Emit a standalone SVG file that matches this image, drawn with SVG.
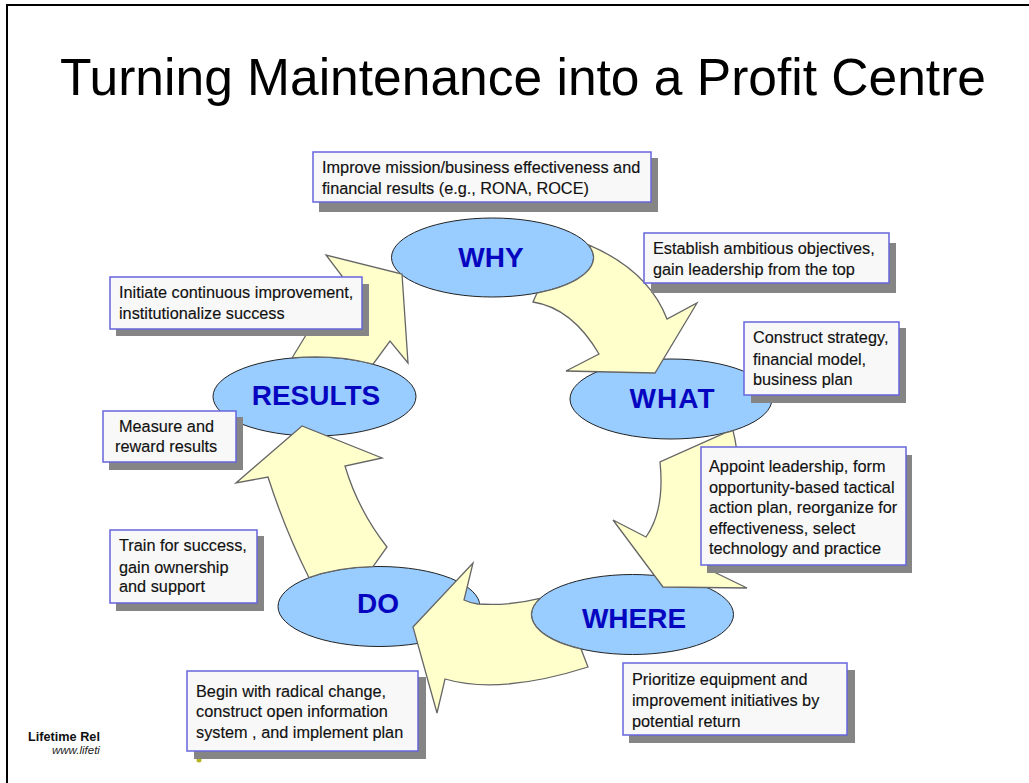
<svg xmlns="http://www.w3.org/2000/svg" width="1029" height="783" viewBox="0 0 1029 783">
<defs><style>
.e{fill:#99ccff;stroke:#222;stroke-width:1}
.a{fill:#ffffcc;stroke:#666;stroke-width:1.3;stroke-linejoin:miter}
.s{fill:#858585}
.b{fill:#f8f8f8;stroke:#6666dd;stroke-width:1.5}
.t{font-family:"Liberation Sans",Arial,sans-serif;font-size:16.3px;fill:#111;stroke:#111;stroke-width:.15}
.n{font-family:"Liberation Sans",Arial,sans-serif;font-size:28px;font-weight:bold;fill:#0606c0;text-anchor:middle}
</style></defs>
<rect width="1029" height="783" fill="#fff"/>
<path d="M7 783V5H1029" fill="none" stroke="#000" stroke-width="2"/>
<text x="523" y="95" font-family="'Liberation Sans',Arial,sans-serif" font-size="52" text-anchor="middle" fill="#000" textLength="926" lengthAdjust="spacingAndGlyphs">Turning Maintenance into a Profit Centre</text>
<circle cx="199" cy="760" r="2.5" fill="#b5b520"/>
<g id="why"><ellipse class="e" cx="492.5" cy="257.5" rx="101" ry="39.5"/><text class="n" x="491" y="267">WHY</text></g>
<g id="what"><ellipse class="e" cx="671" cy="399" rx="101" ry="40"/><text class="n" x="672" y="408" textLength="85" lengthAdjust="spacing">WHAT</text></g>
<g id="where"><ellipse class="e" cx="632.5" cy="614.5" rx="101" ry="40"/><text class="n" x="634" y="628">WHERE</text></g>
<g id="do"><ellipse class="e" cx="379" cy="606.5" rx="101" ry="40"/><text class="n" x="378" y="613">DO</text></g>
<g id="results"><ellipse class="e" cx="314.5" cy="396.5" rx="101.5" ry="39.5"/><text class="n" x="316" y="405">RESULTS</text></g>
<g id="connectors">
<path class="a" d="M588 244.6Q648 270 667 319L697 303L655 373L566 371L599 354Q572 308 533 302L537 293A101 39.5 0 0 0 588 244.6Z"/>
<path class="a" d="M733 430.6Q738 450 738 470L730 560L710 570L747 588L663 587L613 520L646 537Q665 510 660 462L725 432.8A101 40 0 0 0 733 430.6Z"/>
<path class="a" d="M540 598.4Q510 606 478 604Q470 603 464 600L473 563L413 627L437 713L445 679Q500 695 588 667L581 648.9A101 40 0 0 1 540 598.4Z"/>
<path class="a" d="M309 577.7Q285 530 268 477L236 483L302 426L382 458L345 466Q358 510 387 547L373 566.6A101 40 0 0 0 309 577.7Z"/>
<path class="a" d="M292 358L342 276L326 255L402 274L408 363L390 341L373 364.2A101.5 39.5 0 0 0 292 358Z"/>
</g>
<g id="box-why"><rect class="s" x="319" y="158" width="339" height="54"/><rect class="b" x="313" y="152" width="338" height="50"/><text class="t" x="322" y="173">Improve mission/business effectiveness and</text><text class="t" x="322" y="194">financial results (e.g., RONA, ROCE)</text></g>
<g id="box-objectives"><rect class="s" x="651" y="243" width="245" height="50"/><rect class="b" x="644" y="233" width="245" height="50"/><text class="t" x="653" y="254">Establish ambitious objectives,</text><text class="t" x="653" y="275">gain leadership from the top</text></g>
<g id="box-strategy"><rect class="s" x="751" y="328" width="155" height="75"/><rect class="b" x="744" y="322" width="155" height="73"/><text class="t" x="753" y="343">Construct strategy,</text><text class="t" x="753" y="365">financial model,</text><text class="t" x="753" y="385">business plan</text></g>
<g id="box-appoint"><rect class="s" x="707" y="455" width="205" height="118"/><rect class="b" x="701" y="447" width="205" height="118"/><text class="t" x="709" y="472">Appoint leadership, form</text><text class="t" x="709" y="493">opportunity-based tactical</text><text class="t" x="709" y="513">action plan, reorganize for</text><text class="t" x="709" y="534">effectiveness, select</text><text class="t" x="709" y="554">technology and practice</text></g>
<g id="box-prioritize"><rect class="s" x="629" y="670" width="226" height="73"/><rect class="b" x="623" y="663" width="224" height="72"/><text class="t" x="632" y="685">Prioritize equipment and</text><text class="t" x="632" y="706">improvement initiatives by</text><text class="t" x="632" y="727">potential return</text></g>
<g id="box-begin"><rect class="s" x="194" y="677" width="232" height="82"/><rect class="b" x="187" y="671" width="231" height="80"/><text class="t" x="196" y="697">Begin with radical change,</text><text class="t" x="196" y="717">construct open information</text><text class="t" x="196" y="738">system , and implement plan</text></g>
<g id="box-train"><rect class="s" x="116" y="536" width="148" height="75"/><rect class="b" x="110" y="530" width="147" height="73"/><text class="t" x="119" y="551">Train for success,</text><text class="t" x="119" y="573">gain ownership</text><text class="t" x="119" y="592">and support</text></g>
<g id="box-measure"><rect class="s" x="109" y="417" width="134" height="53"/><rect class="b" x="103" y="411" width="133" height="51"/><text class="t" x="119" y="432">Measure and</text><text class="t" x="115" y="452">reward results</text></g>
<g id="box-initiate"><rect class="s" x="116" y="284" width="253" height="52"/><rect class="b" x="110" y="277" width="252" height="52"/><text class="t" x="119" y="298">Initiate continuous improvement,</text><text class="t" x="119" y="319">institutionalize success</text></g>
<g id="logo"><text x="28" y="741" font-family="'Liberation Sans',Arial,sans-serif" font-size="12.7" font-weight="bold" fill="#111">Lifetime Rel</text><text x="52" y="754" font-family="'Liberation Sans',Arial,sans-serif" font-size="11.5" font-style="italic" fill="#222">www.lifeti</text></g>
</svg>
